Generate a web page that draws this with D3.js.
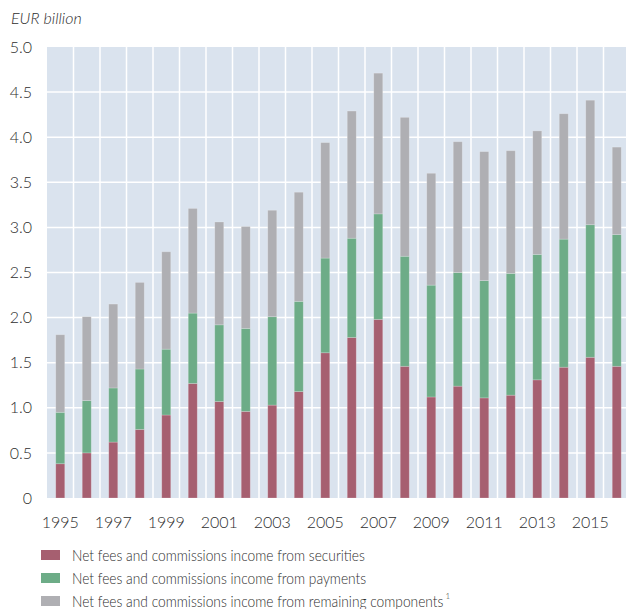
<!DOCTYPE html>
<html>
<head>
<meta charset="utf-8">
<script src="https://cdn.jsdelivr.net/npm/d3@7"></script>
<style>
  body { margin: 0; background: #fff; }
  svg text { font-family: Lato, "Open Sans", sans-serif; font-weight: 300; fill: #2e2e2e; }
</style>
</head>
<body>
<svg id="chart" width="626" height="609"></svg>
<script>
// data (EUR billion)
var years = d3.range(1995, 2017);
var securities = [0.38, 0.50, 0.62, 0.76, 0.92, 1.27, 1.07, 0.96, 1.03, 1.18, 1.61, 1.78, 1.98, 1.46, 1.12, 1.24, 1.11, 1.14, 1.31, 1.45, 1.56, 1.46];
var payments   = [0.57, 0.58, 0.60, 0.67, 0.73, 0.78, 0.85, 0.92, 0.98, 1.00, 1.05, 1.10, 1.17, 1.22, 1.24, 1.26, 1.30, 1.35, 1.39, 1.42, 1.47, 1.46];
var remaining  = [0.86, 0.93, 0.93, 0.96, 1.08, 1.16, 1.14, 1.13, 1.18, 1.21, 1.28, 1.41, 1.56, 1.54, 1.24, 1.45, 1.43, 1.36, 1.37, 1.39, 1.38, 0.97];
var yTicks = [0, 0.5, 1, 1.5, 2, 2.5, 3, 3.5, 4, 4.5, 5];
var seriesNames = ["Net fees and commissions income from securities",
                   "Net fees and commissions income from payments",
                   "Net fees and commissions income from remaining components"];
var colors = ["#a65f70", "#6dac87", "#afafb3"];

var svg = d3.select("#chart");

var mLeft = 47, mTop = 47, mRight = 630, mBottom = 498;

var x = d3.scaleBand().domain(years).range([mLeft, mRight]).paddingInner(0).paddingOuter(0);
var y = d3.scaleLinear().domain([0, 5]).range([mBottom, mTop]);

// plot background
svg.append("rect")
   .attr("x", mLeft)
   .attr("y", mTop)
   .attr("width", mRight - mLeft)
   .attr("height", mBottom - mTop)
   .attr("fill", "#dae3ee");

// grid
svg.append("g").selectAll("line")
   .data(yTicks.filter(function(d) { return d > 0 && d < 5; }))
 .enter().append("line")
   .attr("x1", mLeft).attr("x2", mRight)
   .attr("y1", function(d) { return y(d); })
   .attr("y2", function(d) { return y(d); })
   .attr("stroke", "#fff")
   .attr("stroke-width", 1.5);

svg.append("g").selectAll("line")
   .data(years.slice(1))
 .enter().append("line")
   .attr("x1", function(d) { return x(d); })
   .attr("x2", function(d) { return x(d); })
   .attr("y1", mTop).attr("y2", mBottom)
   .attr("stroke", "#fff")
   .attr("stroke-width", 1.5);

// stacked bars
var table = years.map(function(yr, i) {
  return { year: yr, s: securities[i], p: payments[i], r: remaining[i] };
});
var layers = d3.stack().keys(["s", "p", "r"])(table);

var barW = 9;
svg.append("g").selectAll("g")
   .data(layers)
 .enter().append("g")
   .attr("fill", function(d, i) { return colors[i]; })
 .selectAll("rect")
   .data(function(d) { return d; })
 .enter().append("rect")
   .attr("x", function(d) { return x(d.data.year) + x.bandwidth() / 2 - barW / 2; })
   .attr("width", barW)
   .attr("y", function(d) { return y(d[1]); })
   .attr("height", function(d) { return y(d[0]) - y(d[1]); })
   .attr("stroke", "rgba(255,255,255,0.25)")
   .attr("stroke-width", 0.8);

// axes
var yAxis = d3.axisLeft(y)
    .tickValues(yTicks)
    .tickSize(0)
    .tickPadding(15)
    .tickFormat(function(d) { return d === 0 ? "0" : d3.format(".1f")(d); });

var gy = svg.append("g")
   .attr("transform", "translate(" + mLeft + ",0)")
   .call(yAxis);
gy.select(".domain").remove();
gy.selectAll("text").attr("font-size", 16);

var xAxis = d3.axisBottom(x)
    .tickValues(years.filter(function(d) { return (d - 1995) % 2 === 0; }))
    .tickSize(0)
    .tickPadding(19);

var gx = svg.append("g")
   .attr("transform", "translate(0," + mBottom + ")")
   .call(xAxis);
gx.select(".domain").remove();
gx.selectAll("text").attr("font-size", 16);
gy.attr("font-family", null);
gx.attr("font-family", null);

// unit label
svg.append("text")
   .attr("x", 11)
   .attr("y", 24)
   .attr("font-size", 16)
   .attr("font-style", "italic")
   .text("EUR billion");

// legend
var legend = svg.append("g").selectAll("g")
   .data(seriesNames)
 .enter().append("g")
   .attr("transform", function(d, i) { return "translate(41," + (550 + i * 23) + ")"; });

legend.append("rect")
   .attr("width", 19)
   .attr("height", 10)
   .attr("fill", function(d, i) { return colors[i]; });

var lt = legend.append("text")
   .attr("x", 31)
   .attr("y", 11)
   .attr("font-size", 16)
   .text(function(d) { return d; });

// the original face is narrower than Lato, squeeze a bit
var squeeze = 0.86, widths = [];
lt.each(function() {
  var w = this.getComputedTextLength() * squeeze;
  widths.push(w);
  d3.select(this).attr("textLength", w).attr("lengthAdjust", "spacingAndGlyphs");
});

legend.filter(function(d, i) { return i === 2; })
  .append("text")
   .attr("x", 31 + widths[2] + 2)
   .attr("y", 3)
   .attr("font-size", 8)
   .text("1");
</script>
</body>
</html>
